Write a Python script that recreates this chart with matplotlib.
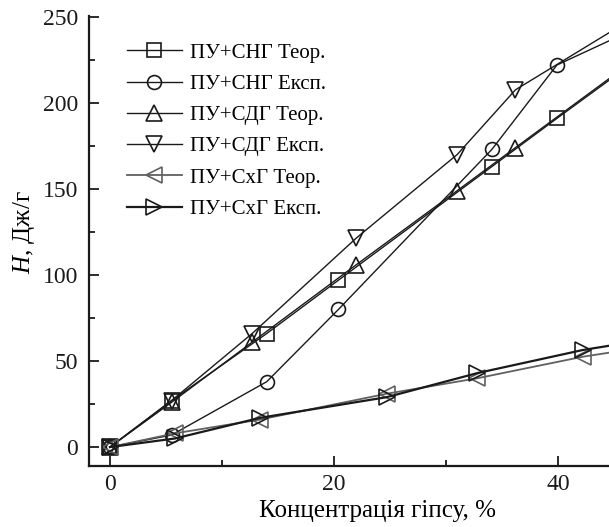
import numpy as np
import matplotlib
matplotlib.use('Agg')
import matplotlib.pyplot as plt
from matplotlib.ticker import MultipleLocator

plt.rcParams['font.family'] = ['Liberation Serif', 'DejaVu Serif']
plt.rcParams['mathtext.fontset'] = 'custom'
plt.rcParams['mathtext.it'] = 'Liberation Serif:italic'
plt.rcParams['mathtext.rm'] = 'Liberation Serif'

# gypsum concentration, %
x_sng = [0, 5.5, 14.0, 20.4, 34.1, 39.9]
x_sdg = [0, 5.5, 12.7, 22.0, 31.0, 36.2]
x_sxg = [0, 5.8, 13.4, 24.7, 32.8, 42.2]

# H, J/g
y_sng_theor = [0, 27, 66, 97, 163, 191]
y_sng_exp = [0, 7, 38, 80, 173, 222]
y_sdg_theor = [0, 26, 61, 106, 149, 174]
y_sdg_exp = [0, 27, 66, 121.5, 170, 207.6]
y_sxg_theor = [0, 8, 16, 31, 40, 52.5]
y_sxg_exp = [0, 5, 17, 29, 43, 56.4]

# curves run on past the last measured point, off the right edge
x_tail = 46
y_tail = {'sng_theor': 220, 'sng_exp': 240.4, 'sdg_theor': 221,
          'sdg_exp': 246.5, 'sxg_theor': 56.3, 'sxg_exp': 60.4}

labels = ['ПУ+СНГ Теор.', 'ПУ+СНГ Експ.', 'ПУ+СДГ Теор.',
          'ПУ+СДГ Експ.', 'ПУ+СхГ Теор.', 'ПУ+СхГ Експ.']

series = [
    (x_sng, y_sng_theor, 'sng_theor', 's', '#1a1a1a', 1.0),
    (x_sng, y_sng_exp, 'sng_exp', 'o', '#1a1a1a', 1.0),
    (x_sdg, y_sdg_theor, 'sdg_theor', '^', '#1a1a1a', 1.0),
    (x_sdg, y_sdg_exp, 'sdg_exp', 'v', '#1a1a1a', 1.0),
    (x_sxg, y_sxg_theor, 'sxg_theor', '<', '#606060', 1.3),
    (x_sxg, y_sxg_exp, 'sxg_exp', '>', '#1a1a1a', 1.6),
]

fig = plt.figure(figsize=(6.09, 5.27), dpi=100)
ax = fig.add_axes([0.146, 0.1157, 0.854, 0.854])

for (xs, ys, key, mk, col, lw), lab in zip(series, labels):
    xx = list(xs) + [x_tail]
    yy = list(ys) + [y_tail[key]]
    ms = 10 if mk in 'so' else 12
    ax.plot(xx, yy, color=col, lw=lw, marker=mk, ms=ms, mfc='none',
            mec=col, mew=1.2, markevery=list(range(len(xs))), label=lab)

ax.set_xlim(-1.875, 44.55)
ax.set_ylim(-11, 250.5)

ax.spines['top'].set_visible(False)
ax.spines['right'].set_visible(False)
for s in ('left', 'bottom'):
    ax.spines[s].set_linewidth(1.6)
    ax.spines[s].set_color('#1a1a1a')

ax.xaxis.set_major_locator(MultipleLocator(20))
ax.xaxis.set_minor_locator(MultipleLocator(10))
ax.yaxis.set_major_locator(MultipleLocator(50))
ax.yaxis.set_minor_locator(MultipleLocator(25))
ax.tick_params(which='both', direction='in', width=1.3, colors='#1a1a1a',
               labelsize=17)
ax.tick_params(which='major', length=7)
ax.tick_params(which='minor', length=4)
ax.tick_params(axis='y', pad=8)
ax.tick_params(axis='x', pad=6)

ax.set_xlabel('Концентрація гіпсу, %', fontsize=18)
ax.set_ylabel(r'$\it{H}$, Дж/г', fontsize=18)
ax.xaxis.set_label_coords(0.554, -0.075)
ax.yaxis.set_label_coords(-0.10, 0.52)

leg = ax.legend(loc='upper left', bbox_to_anchor=(0.073, 0.94), frameon=False,
                fontsize=15, handlelength=2.65, handletextpad=0.4,
                labelspacing=0.56, borderaxespad=0, borderpad=0)

fig.savefig('out.png', dpi=100)
